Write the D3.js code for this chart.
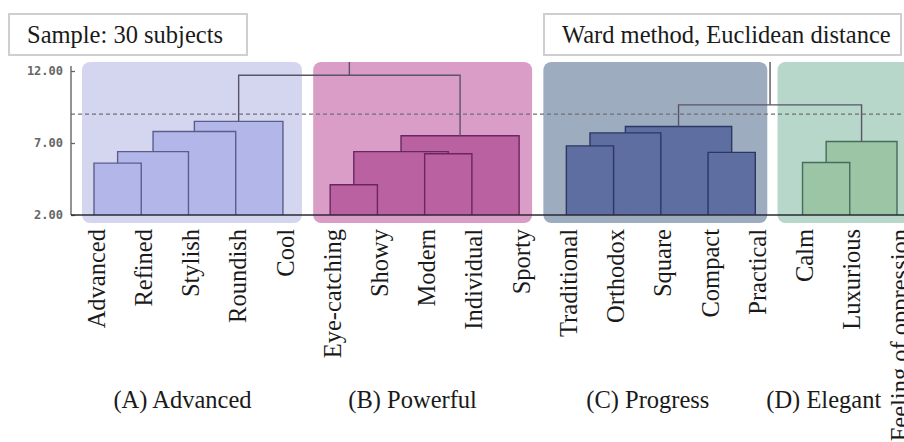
<!DOCTYPE html>
<html>
<head>
<meta charset="utf-8">
<script src="https://cdn.jsdelivr.net/npm/d3@7"></script>
<style>
  body { margin: 0; background: #fff; }
  svg { display: block; }
</style>
</head>
<body>
<div id="chart"></div>
<script>
// leaves in dendrogram order
const leaves = ["Advanced", "Refined", "Stylish", "Roundish", "Cool",
    "Eye-catching", "Showy", "Modern", "Individual", "Sporty",
    "Traditional", "Orthodox", "Square", "Compact", "Practical",
    "Calm", "Luxurious", "Feeling of oppression"];

// cluster groups (first leaf index, last leaf index)
const groupNames = ["(A) Advanced", "(B) Powerful", "(C) Progress", "(D) Elegant"];
const groupRanges = [[0, 4], [5, 9], [10, 14], [15, 17]];

// linkage: [child a, child b, height]; ids >= leaves.length refer to earlier merges
const merges = [
    [0, 1, 5.6], [18, 2, 6.4], [19, 3, 7.8], [20, 4, 8.5],
    [5, 6, 4.1], [7, 8, 6.25], [22, 23, 6.4], [24, 9, 7.5],
    [21, 25, 11.7],
    [10, 11, 6.8], [27, 12, 7.7], [13, 14, 6.35], [28, 29, 8.15],
    [15, 16, 5.65], [31, 17, 7.1],
    [30, 32, 9.65],
    [26, 33, 14.0]
];

const cutHeight = 9.0;
const yTicks = [2, 7, 12];
const titleLeft = "Sample: 30 subjects";
const titleRight = "Ward method, Euclidean distance";

// styling per group
const bgColors = ["#d4d6ef", "#d99dc7", "#9eacbf", "#b6d7ca"];
const fillColors = ["#b3b6e9", "#ba62a1", "#5f6ea0", "#9bc5a5"];
const strokeColors = ["#5b5e8c", "#6b2560", "#2c3763", "#476c5b"];
const upperStroke = "#5a5566";

const width = 904, height = 442;
const serif = "'Liberation Serif', 'Times New Roman', serif";

const svg = d3.select('#chart').append('svg')
    .attr('width', width)
    .attr('height', height);

const x = d3.scalePoint().domain(d3.range(leaves.length)).range([94, 897]);
const y = d3.scaleLinear().domain([2, 12]).range([215, 71]);
const baseY = y(2);

// title boxes
function titleBox(bx, bw, label) {
    svg.append('rect')
        .attr('x', bx).attr('y', 14).attr('width', bw).attr('height', 41)
        .attr('fill', '#fff').attr('stroke', '#cfcfcf').attr('stroke-width', 2);
    svg.append('text')
        .attr('x', bx + 18).attr('y', 43)
        .attr('font-family', serif).attr('font-size', 24.5)
        .attr('fill', '#1a1a1a')
        .text(label);
}
titleBox(9, 238, titleLeft);
titleBox(544, 357, titleRight);

// group background boxes
const boxPad = [[12, 19], [17, 13], [23, 12], [25, 40]];
svg.append('g').selectAll('rect')
    .data(groupRanges)
    .join('rect')
    .attr('x', (d, i) => x(d[0]) - boxPad[i][0])
    .attr('y', 62)
    .attr('width', (d, i) => x(d[1]) + boxPad[i][1] - x(d[0]) + boxPad[i][0])
    .attr('height', 161)
    .attr('rx', 8)
    .attr('fill', (d, i) => bgColors[i]);

// build node positions from linkage
const nodes = leaves.map((name, i) => ({ id: i, x: x(i), h: 2, group: groupRanges.findIndex(r => i >= r[0] && i <= r[1]) }));
merges.forEach(([a, b, h]) => {
    const na = nodes[a], nb = nodes[b];
    nodes.push({
        id: nodes.length,
        a: na, b: nb, h: h,
        x: (na.x + nb.x) / 2,
        group: na.group === nb.group ? na.group : -1
    });
});
const mergeNodes = nodes.slice(leaves.length);

svg.append('defs').append('clipPath').attr('id', 'plot-clip')
    .append('rect').attr('x', 0).attr('y', 62).attr('width', width).attr('height', 200);

const dendro = svg.append('g').attr('clip-path', 'url(#plot-clip)');

// filled area under each within-group merge
dendro.append('g').selectAll('rect')
    .data(mergeNodes.filter(d => d.group >= 0))
    .join('rect')
    .attr('x', d => d.a.x)
    .attr('y', d => y(d.h))
    .attr('width', d => d.b.x - d.a.x)
    .attr('height', d => baseY - y(d.h))
    .attr('fill', d => fillColors[d.group]);

// cut line
svg.append('line')
    .attr('x1', 71).attr('x2', width)
    .attr('y1', y(cutHeight)).attr('y2', y(cutHeight))
    .attr('stroke', '#6f6f78').attr('stroke-width', 1.3)
    .attr('stroke-dasharray', '4,3');

// dendrogram links
dendro.append('g').selectAll('path')
    .data(mergeNodes)
    .join('path')
    .attr('fill', 'none')
    .attr('stroke', d => d.group >= 0 ? strokeColors[d.group] : upperStroke)
    .attr('stroke-width', 1.4)
    .attr('d', d => `M${d.a.x},${y(d.a.h)}V${y(d.h)}H${d.b.x}V${y(d.b.h)}`);

// axis
const axis = svg.append('g')
    .attr('transform', 'translate(71,0)')
    .call(d3.axisLeft(y).tickValues(yTicks).tickFormat(d3.format('.2f'))
        .tickSizeInner(-4).tickSizeOuter(0).tickPadding(8));
axis.select('.domain').remove();
axis.selectAll('line').attr('stroke', '#666').attr('stroke-width', 1.3);
axis.selectAll('text')
    .attr('font-family', "'DejaVu Sans Mono', monospace")
    .attr('font-size', 12)
    .attr('font-weight', 'bold')
    .attr('fill', '#666');
svg.append('line')
    .attr('x1', 71).attr('x2', 71).attr('y1', 66).attr('y2', baseY)
    .attr('stroke', '#666').attr('stroke-width', 1.4);

// baseline
svg.append('line')
    .attr('x1', 71).attr('x2', width).attr('y1', baseY).attr('y2', baseY)
    .attr('stroke', '#2a2a33').attr('stroke-width', 1.6);

// leaf labels
svg.append('g').selectAll('text')
    .data(leaves)
    .join('text')
    .attr('transform', (d, i) => `translate(${x(i) + 2},229) rotate(-90)`)
    .attr('text-anchor', 'end')
    .attr('dy', '0.35em')
    .attr('font-family', serif)
    .attr('font-size', 24.5)
    .attr('fill', '#1a1a1a')
    .text(d => d);

// group labels
const groupDx = [-6, -12, -13, -26];
svg.append('g').selectAll('text')
    .data(groupNames)
    .join('text')
    .attr('x', (d, i) => d3.mean(d3.range(groupRanges[i][0], groupRanges[i][1] + 1), x) + groupDx[i])
    .attr('y', 408)
    .attr('text-anchor', 'middle')
    .attr('font-family', serif)
    .attr('font-size', 24.5)
    .attr('fill', '#1a1a1a')
    .text(d => d);
</script>
</body>
</html>
